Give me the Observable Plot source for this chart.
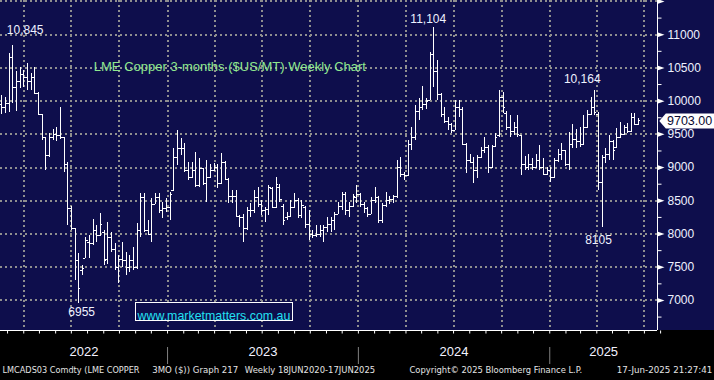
<!DOCTYPE html>
<html><head><meta charset="utf-8">
<script src="https://cdn.jsdelivr.net/npm/d3@7"></script>
<script src="https://cdn.jsdelivr.net/npm/@observablehq/plot@0.6"></script>
<style>
html,body{margin:0;padding:0;background:#000;}
#chart svg{display:block;}
</style></head><body><div id="chart"></div>
<script>
// ---- data (weekly bars, week ending Friday, first = 2022-02-18) ----
const firstWeek = "2022-02-18";
const open = [9950,9900,9960,10650,10200,10300,10400,10350,10300,10360,10120,9800,9450,9180,9450,9500,9480,9450,9050,8380,8080,7600,7450,7630,7880,7850,8050,7980,8030,7620,7950,7760,7500,7620,7600,7500,7600,7500,8050,8550,8050,8000,8450,8550,8350,8380,8400,8650,9150,9280,9280,8950,8850,8950,8730,8980,8760,8850,8950,9000,8760,9080,8820,8560,8560,8260,8250,8080,8350,8350,8550,8450,8350,8370,8680,8400,8700,8420,8250,8260,8400,8500,8280,8400,8150,8000,7980,8000,8050,8100,8150,8200,8300,8420,8600,8350,8420,8550,8600,8450,8380,8300,8500,8550,8200,8430,8500,8520,8560,9000,8900,8880,9350,9450,9850,9900,9950,10010,10700,10450,10100,9800,9700,9650,9560,9900,9880,9350,9100,9080,8950,9150,9250,9300,9000,9320,9480,10050,9810,9600,9550,9600,9480,9040,9000,9050,9000,9100,9000,8900,8960,8850,9100,9200,9250,9050,9350,9420,9400,9350,9600,9800,9900,9800,8780,9150,9200,9400,9300,9450,9500,9600,9550,9750,9650];
const high = [10085,10060,10712,10845,10450,10512,10462,10562,10411,10512,10130,9800,9460,9508,9580,9610,9910,9460,9082,8420,8090,7702,7527,7953,7978,8215,8129,8304,8050,8180,8030,7853,7677,7878,7727,7677,7803,8154,8605,8605,8204,8530,8610,8605,8480,8530,8630,9283,9559,9433,9358,9082,9082,9232,9132,8990,9107,9040,9057,9040,9208,9090,8830,8655,8655,8280,8300,8404,8455,8655,8706,8505,8405,8730,8700,8856,8750,8440,8330,8505,8605,8530,8505,8420,8350,8053,8130,8130,8130,8254,8255,8330,8480,8630,8630,8480,8600,8730,8606,8480,8405,8555,8706,8560,8455,8630,8560,8580,9107,9157,8930,9408,9608,9935,10035,10220,10035,10737,11104,10612,10110,9910,9760,9660,10010,10010,9910,9358,9200,9157,9183,9308,9458,9333,9333,9520,10160,10135,9850,9785,9685,9780,9490,9170,9200,9140,9200,9333,9140,9000,9000,9140,9270,9358,9258,9525,9650,9575,9608,9785,9860,10060,10164,9835,9183,9283,9483,9408,9583,9683,9633,9658,9810,9810,9735];
const low = [9800,9810,9834,9960,9850,10185,10210,10160,10160,10110,9784,9408,8960,9150,9410,9390,9430,8930,8129,8050,7300,6955,7376,7627,7627,7820,7878,7960,7527,7540,7728,7452,7251,7502,7376,7427,7452,7460,7950,8030,7978,7880,8440,8304,8240,8330,8205,8640,9031,9183,8931,8806,8830,8706,8706,8730,8480,8830,8940,8680,8740,8806,8455,8455,8254,8100,7878,8053,8254,8304,8405,8280,8180,8280,8380,8380,8480,8130,8200,8254,8390,8230,8230,8080,7900,7928,7950,7950,7878,8030,8030,8055,8290,8355,8280,8255,8400,8455,8405,8305,8255,8290,8455,8155,8155,8405,8440,8460,8530,8856,8806,8870,9258,9408,9710,9860,9880,10010,10211,10010,9760,9660,9558,9508,9558,9760,9333,8906,9057,8756,8830,9140,9208,8906,8981,9300,9450,9810,9558,9458,9483,9450,8880,8960,8960,8960,8990,8960,8880,8880,8780,8840,9080,9107,9010,8960,9290,9283,9308,9340,9590,9780,9785,8655,8105,9057,9107,9107,9290,9440,9483,9508,9533,9633,9640];
const close = [9900,9960,10650,10200,10300,10400,10350,10300,10360,10120,9800,9450,9180,9450,9500,9480,9450,9050,8380,8080,7600,7180,7480,7900,7850,8050,7980,8150,7600,7950,7760,7500,7620,7600,7500,7600,7500,8050,8550,8050,8000,8450,8550,8350,8380,8400,8600,9150,9280,9280,8950,8850,8950,8730,8980,8760,8850,8950,9000,8760,9080,8820,8560,8560,8260,8250,8080,8350,8350,8550,8450,8350,8370,8700,8400,8750,8520,8200,8260,8400,8500,8280,8430,8150,8000,7980,8000,8050,8100,8150,8200,8300,8420,8600,8350,8420,8560,8600,8450,8380,8300,8500,8550,8200,8430,8500,8520,8560,9000,8900,8880,9350,9450,9850,9900,9950,10000,10700,10450,10100,9800,9700,9650,9560,9900,9880,9350,9100,9080,8950,9150,9250,9300,9000,9320,9450,10050,9900,9600,9550,9600,9500,9040,9000,9050,9000,9100,9000,8900,8960,8850,9100,9200,9250,9050,9350,9420,9400,9350,9600,9800,9900,9835,8780,9150,9200,9400,9250,9450,9500,9600,9550,9750,9650,9703];

const yGrid = [7000,7500,8000,8500,9000,9500,10000,10500,11000,11500];
const yLabels = [7000,7500,8000,8500,9000,9500,10000,10500,11000];
const yMinor = [6750,7250,7750,8250,8750,9250,9750,10250,10750,11250];
const quarterLines = ["2022-04-01","2022-07-01","2022-10-01","2023-01-01","2023-04-01","2023-07-01","2023-10-01","2024-01-01","2024-04-01","2024-07-01","2024-10-01","2025-01-01","2025-04-01","2025-07-01"];
const yearLabels = ["2022","2023","2024","2025"];
const highLowNotes = [
  {week: 3, value: 10845, label: "10,845"},
  {week: 118, value: 11104, label: "11,104"},
  {week: 162, value: 10164, label: "10,164"},
  {week: 21, value: 6955, label: "6955"},
  {week: 164, value: 8105, label: "8105"}
];
const titleText = "LME Copper 3-months ($US/MT) Weekly Chart";
const urlText = "www.marketmatters.com.au";
const footerTexts = ["LMCADS03 Comdty (LME COPPER", "3MO ($)) Graph 217", "Weekly 18JUN2020-17JUN2025", "Copyright\u00a9 2025 Bloomberg Finance L.P.", "17-Jun-2025 21:27:41"];

// ---- build ----
const DAY = 864e5;
const t0 = Date.parse(firstWeek);
const weeks = open.map((_, i) => d3.utcDay.offset(new Date(t0), 7 * i));
const bars = weeks.map((date, i) => ({date, open: open[i], high: high[i], low: low[i], close: close[i]}));
const xStart = new Date(t0 - 2.49 * DAY);
const xEnd = new Date(t0 + 1254.07 * DAY);
const yDomain = [6548, 11515];
const months = d3.utcMonth.range(new Date(Date.UTC(2022, 2, 1)), new Date(Date.UTC(2025, 7, 2)));
const qDates = quarterLines.map(s => new Date(s));
const yearMid = yearLabels.map(y => {
  const a = Math.max(+xStart, Date.UTC(+y, 0, 1));
  const b = Math.min(+xEnd, Date.UTC(+y + 1, 0, 1));
  return {label: y, date: new Date((a + b) / 2)};
});
const yearStarts = yearLabels.slice(1).map(y => new Date(Date.UTC(+y, 0, 1)));
const lastClose = close[close.length - 1];

const NAVY = "#0e0e4c";
const grid = {stroke: "#8f8f8f", strokeWidth: 2, strokeDasharray: "2,3", shapeRendering: "crispEdges"};
const arrowSym = {draw(c) { c.moveTo(0.5, -2.3); c.lineTo(7, 0); c.lineTo(0.5, 2.3); c.closePath(); }};
const minorSym = {draw(c) { c.moveTo(0, 0); c.lineTo(4, 0); }};
const tagSym = {draw(c) { c.moveTo(0, 0); c.lineTo(6.5, -7.5); c.lineTo(80, -7.5); c.lineTo(80, 7.5); c.lineTo(6.5, 7.5); c.closePath(); }};
const boxSym = {draw(c) { c.rect(-78.6, -8.85, 157.3, 17.7); }};
const monthSym = {draw(c) { c.moveTo(0, 0); c.lineTo(0, 3); }};
const sepSym = {draw(c) { c.moveTo(0, 16.5); c.lineTo(0, 33.5); }};
const light = "#eef2ff";

const noteOffsets = [[12.4, -15], [-5.4, -9], [-12.5, -11.5], [3, 9], [-3.5, 12.7]];
// [x, width, anchor]
const footerLayout = [[2, 137, "start"], [151.7, 86, "start"], [244.3, 130.4, "start"], [409, 172.7, "start"], [711.7, 95.4, "end"]];

const marks = [
  Plot.ruleY(yGrid, {y: d => d, ...grid}),
  Plot.ruleX(qDates, {x: d => d, ...grid}),
  Plot.ruleX(bars, {x: "date", y1: "low", y2: "high", stroke: "white", strokeWidth: 1, shapeRendering: "crispEdges"}),
  Plot.ruleY(bars, {y: "open", x1: d => d3.utcDay.offset(d.date, -4), x2: "date", stroke: "white", strokeWidth: 1, shapeRendering: "crispEdges"}),
  Plot.ruleY(bars, {y: "close", x1: "date", x2: d => d3.utcDay.offset(d.date, 4), stroke: "white", strokeWidth: 1, shapeRendering: "crispEdges"}),
  ...highLowNotes.map((n, i) => Plot.text([n], {x: d => weeks[d.week], y: "value", text: "label", dx: noteOffsets[i][0], dy: noteOffsets[i][1], fill: light, fontSize: 12})),
  Plot.text([titleText], {text: d => d, frameAnchor: "top-left", dx: 93.3, dy: 61.7, textAnchor: "start", fill: "#8fe88f", fontSize: 13}),
  Plot.dot([urlText], {frameAnchor: "top-left", dx: 213.7, dy: 311.2, symbol: boxSym, fill: NAVY, stroke: "white", strokeWidth: 1, shapeRendering: "crispEdges"}),
  Plot.text([urlText], {text: d => d, frameAnchor: "top-left", dx: 137, dy: 310.8, textAnchor: "start", fill: "#22e0f2", fontSize: 12.4}),
  Plot.ruleX([xEnd], {x: d => d, stroke: "white", strokeWidth: 1}),
  Plot.ruleY([yDomain[0]], {y: d => d, stroke: "white", strokeWidth: 1}),
  Plot.dot(yMinor, {y: d => d, frameAnchor: "right", symbol: minorSym, fill: "none", stroke: "white", strokeWidth: 1}),
  Plot.dot(yGrid, {y: d => d, frameAnchor: "right", symbol: arrowSym, fill: "white", stroke: "none"}),
  Plot.text(yLabels, {y: d => d, text: d => String(d), frameAnchor: "right", dx: 10, textAnchor: "start", fill: light, fontSize: 12}),
  Plot.dot([lastClose], {y: d => d, frameAnchor: "right", dx: 1.8, symbol: tagSym, fill: "white", stroke: "none"}),
  Plot.text([lastClose], {y: d => d, text: d => d.toFixed(2), frameAnchor: "right", dx: 9.5, textAnchor: "start", fill: "#0a0a30", fontSize: 12.5}),
  Plot.dot(months, {x: d => d, frameAnchor: "bottom", symbol: monthSym, fill: "none", stroke: "white", strokeWidth: 1}),
  Plot.dot(yearStarts, {x: d => d, frameAnchor: "bottom", symbol: sepSym, fill: "none", stroke: "#808080", strokeWidth: 1}),
  Plot.text(yearMid, {x: "date", text: "label", frameAnchor: "bottom", dy: 25, fill: "#f2f2ff", fontSize: 13}),
  ...footerTexts.map((t, i) => Plot.text([t], {text: d => d, frameAnchor: "bottom-left", dx: footerLayout[i][0], dy: 42.7, textAnchor: footerLayout[i][2], fill: "#e4e4e4", fontSize: 8.8, fontFamily: "DejaVu Sans"}))
];

const chart = Plot.plot({
  width: 714, height: 380,
  marginLeft: 0, marginRight: 57, marginTop: 0, marginBottom: 50,
  x: {type: "utc", domain: [xStart, xEnd], axis: null},
  y: {domain: yDomain, axis: null},
  style: {background: `linear-gradient(to bottom, ${NAVY} 0px, ${NAVY} 330px, #000 330px, #000 380px)`, fontFamily: "'Liberation Sans', Arial, sans-serif", overflow: "hidden"},
  marks
});
d3.select(chart).selectAll("text").each(function() {
  const i = footerTexts.indexOf(this.textContent);
  if (i >= 0) { this.setAttribute("textLength", footerLayout[i][1]); this.setAttribute("lengthAdjust", "spacingAndGlyphs"); }
});
document.getElementById("chart").appendChild(chart);
</script>
</body></html>
